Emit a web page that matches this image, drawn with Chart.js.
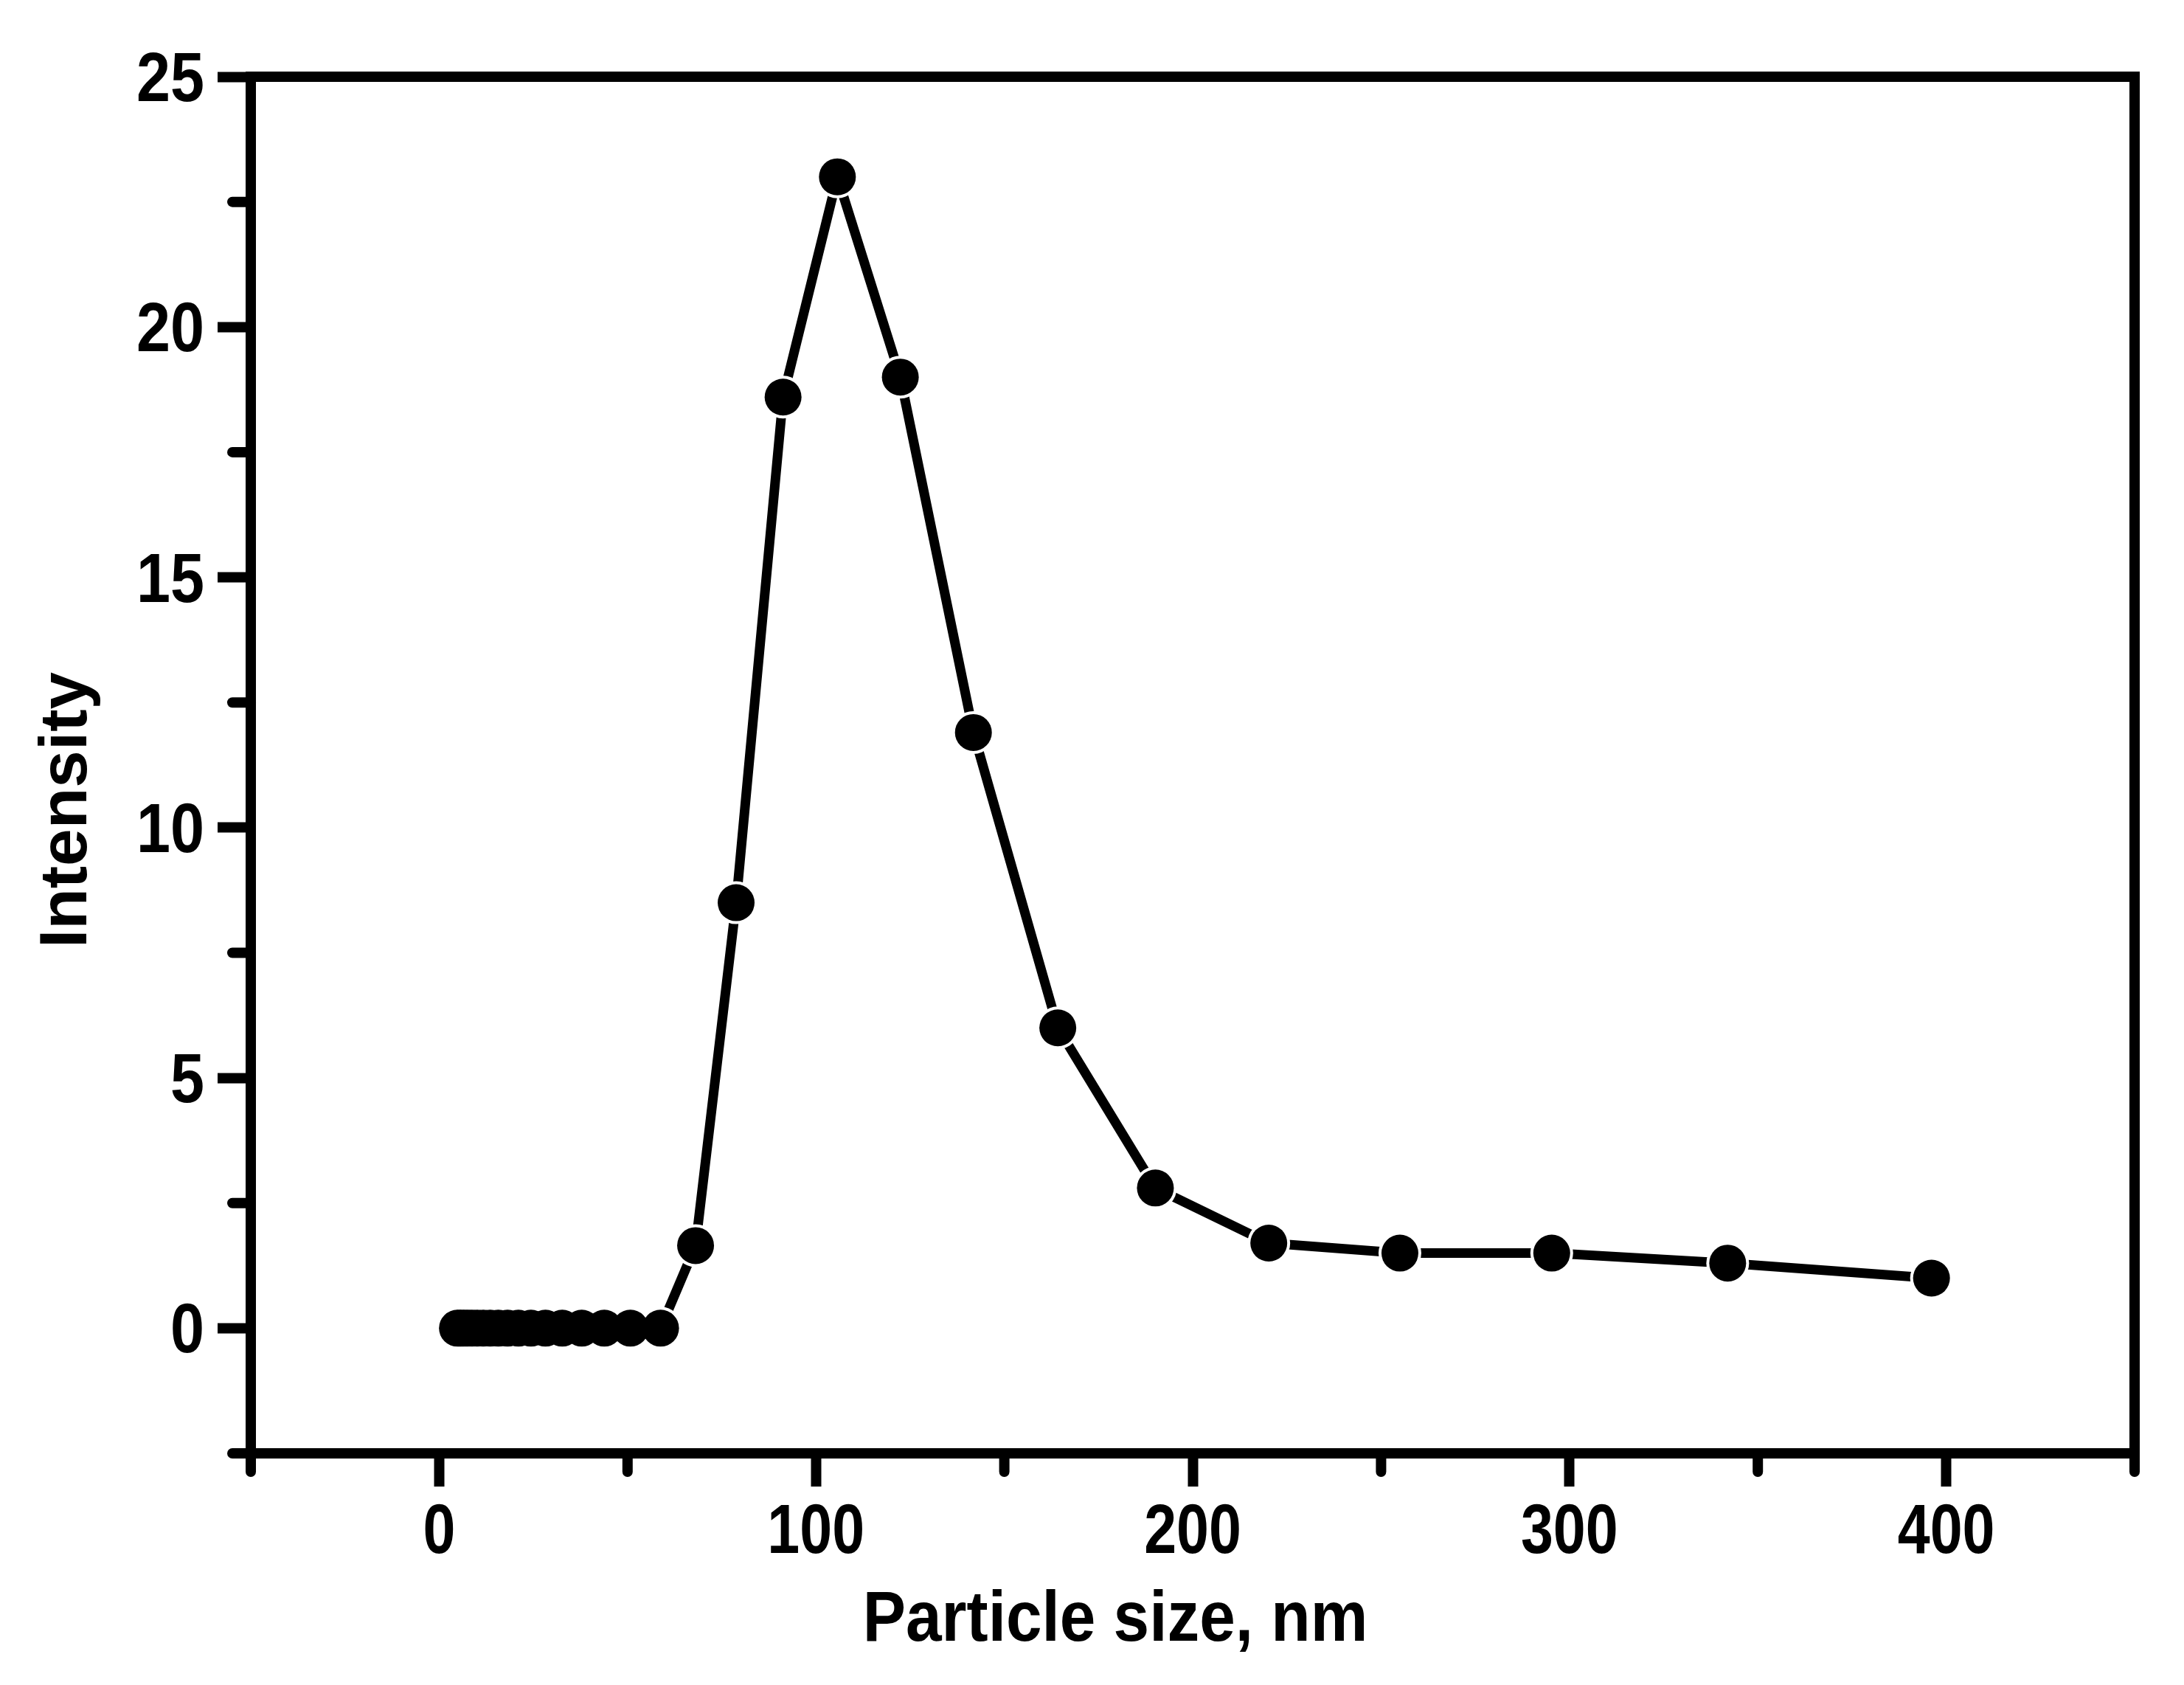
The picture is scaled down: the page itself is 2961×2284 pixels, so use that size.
<!DOCTYPE html>
<html>
<head>
<meta charset="utf-8">
<title>Particle size distribution</title>
<script src="https://cdn.jsdelivr.net/npm/chart.js@4.4.1/dist/chart.umd.min.js"></script>
<style>
  html, body { margin: 0; padding: 0; background: #fff; }
  #wrap { width: 2961px; height: 2284px; }
</style>
</head>
<body>
<div id="wrap"><canvas id="psd" width="2961" height="2284"></canvas></div>
<script>
// particle size bins (nm) and measured intensity (%)
const sizes = [4.849, 5.615, 6.503, 7.531, 8.721, 10.1, 11.7, 13.54, 15.69, 18.17, 21.04, 24.36,
               28.21, 32.67, 37.84, 43.82, 50.75, 58.77, 68.06, 78.82, 91.28, 105.7, 122.4,
               141.8, 164.2, 190.1, 220.2, 255.0, 295.3, 342.0, 396.1];
const intensity = [0, 0, 0, 0, 0, 0, 0, 0, 0, 0, 0, 0,
                   0, 0, 0, 0, 0, 0, 1.65, 8.5, 18.6, 23.0, 19.0,
                   11.9, 6.0, 2.8, 1.7, 1.5, 1.5, 1.3, 1.0];

// axis ticks
const xMajorTicks = [0, 100, 200, 300, 400];
const xMinorTicks = [-50, 50, 150, 250, 350, 450];
const yMajorTicks = [0, 5, 10, 15, 20, 25];
const yMinorTicks = [-2.5, 2.5, 7.5, 12.5, 17.5, 22.5];

const xTitle = 'Particle size, nm';
const yTitle = 'Intensity';

const FONT = "'Liberation Sans', Arial, Helvetica, sans-serif";
const LINE_W = 14;

const points = sizes.map((s, i) => ({ x: s, y: intensity[i] }));

// draw text squeezed horizontally (the original labels are a bit condensed)
function squeezedText(ctx, text, x, y, sx, align) {
    ctx.save();
    ctx.translate(x, y);
    ctx.scale(sx, 1);
    ctx.textAlign = align;
    ctx.fillText(text, 0, 0);
    ctx.restore();
}

// minor ticks, top/right frame and all the axis text, placed off the chart's own scales
const framePlugin = {
    id: 'frame',
    afterDraw(chart) {
        const { ctx, chartArea: a, scales } = chart;
        ctx.save();
        ctx.strokeStyle = '#000';
        ctx.fillStyle = '#000';
        ctx.lineWidth = LINE_W;
        ctx.lineCap = 'round';

        xMinorTicks.forEach(v => {
            const px = scales.x.getPixelForValue(v);
            ctx.beginPath();
            ctx.moveTo(px, a.bottom);
            ctx.lineTo(px, a.bottom + 25);
            ctx.stroke();
        });
        yMinorTicks.forEach(v => {
            const py = scales.y.getPixelForValue(v);
            ctx.beginPath();
            ctx.moveTo(a.left, py);
            ctx.lineTo(a.left - 25, py);
            ctx.stroke();
        });

        ctx.lineCap = 'square';
        ctx.beginPath();
        ctx.moveTo(a.left, a.top);
        ctx.lineTo(a.right, a.top);
        ctx.lineTo(a.right, a.bottom);
        ctx.stroke();

        // tick labels
        ctx.textBaseline = 'alphabetic';
        ctx.font = 'bold 94px ' + FONT;
        xMajorTicks.forEach(v => {
            squeezedText(ctx, String(v), scales.x.getPixelForValue(v), a.bottom + 135, 0.84, 'center');
        });
        yMajorTicks.forEach(v => {
            squeezedText(ctx, String(v), a.left - 63, scales.y.getPixelForValue(v) + 33, 0.88, 'right');
        });

        // axis titles
        ctx.font = 'bold 96px ' + FONT;
        squeezedText(ctx, xTitle, 1512, 2224, 0.91, 'center');

        ctx.font = 'bold 91px ' + FONT;
        ctx.translate(117, 1098);
        ctx.rotate(-Math.PI / 2);
        ctx.textAlign = 'center';
        ctx.fillText(yTitle, 0, 0);
        ctx.restore();
    }
};

new Chart(document.getElementById('psd'), {
    type: 'scatter',
    data: {
        datasets: [
            {
                // connecting line with white halos so it stops short of each marker
                data: points,
                showLine: true,
                borderColor: '#000',
                borderWidth: 13,
                borderCapStyle: 'round',
                borderJoinStyle: 'round',
                tension: 0,
                pointRadius: 29,
                pointBackgroundColor: '#fff',
                pointBorderWidth: 0,
                order: 1
            },
            {
                data: points,
                showLine: false,
                pointRadius: 25,
                pointBackgroundColor: '#000',
                pointBorderWidth: 0,
                order: 0
            }
        ]
    },
    options: {
        responsive: false,
        animation: false,
        layout: { padding: { left: 0, top: 104, right: 67, bottom: 0 } },
        plugins: {
            legend: { display: false },
            tooltip: { enabled: false }
        },
        scales: {
            x: {
                type: 'linear',
                min: -50,
                max: 450,
                afterBuildTicks: s => { s.ticks = xMajorTicks.map(v => ({ value: v })); },
                afterFit: s => { s.height = 314; },
                border: { display: true, color: '#000', width: LINE_W },
                grid: { drawOnChartArea: false, drawTicks: true, tickLength: 45, tickWidth: LINE_W, tickColor: '#000' },
                ticks: { display: false },
                title: { display: false }
            },
            y: {
                type: 'linear',
                min: -2.5,
                max: 25,
                afterBuildTicks: s => { s.ticks = yMajorTicks.map(v => ({ value: v })); },
                afterFit: s => { s.width = 340; },
                border: { display: true, color: '#000', width: LINE_W },
                grid: { drawOnChartArea: false, drawTicks: true, tickLength: 45, tickWidth: LINE_W, tickColor: '#000' },
                ticks: { display: false },
                title: { display: false }
            }
        }
    },
    plugins: [framePlugin]
});
</script>
</body>
</html>
